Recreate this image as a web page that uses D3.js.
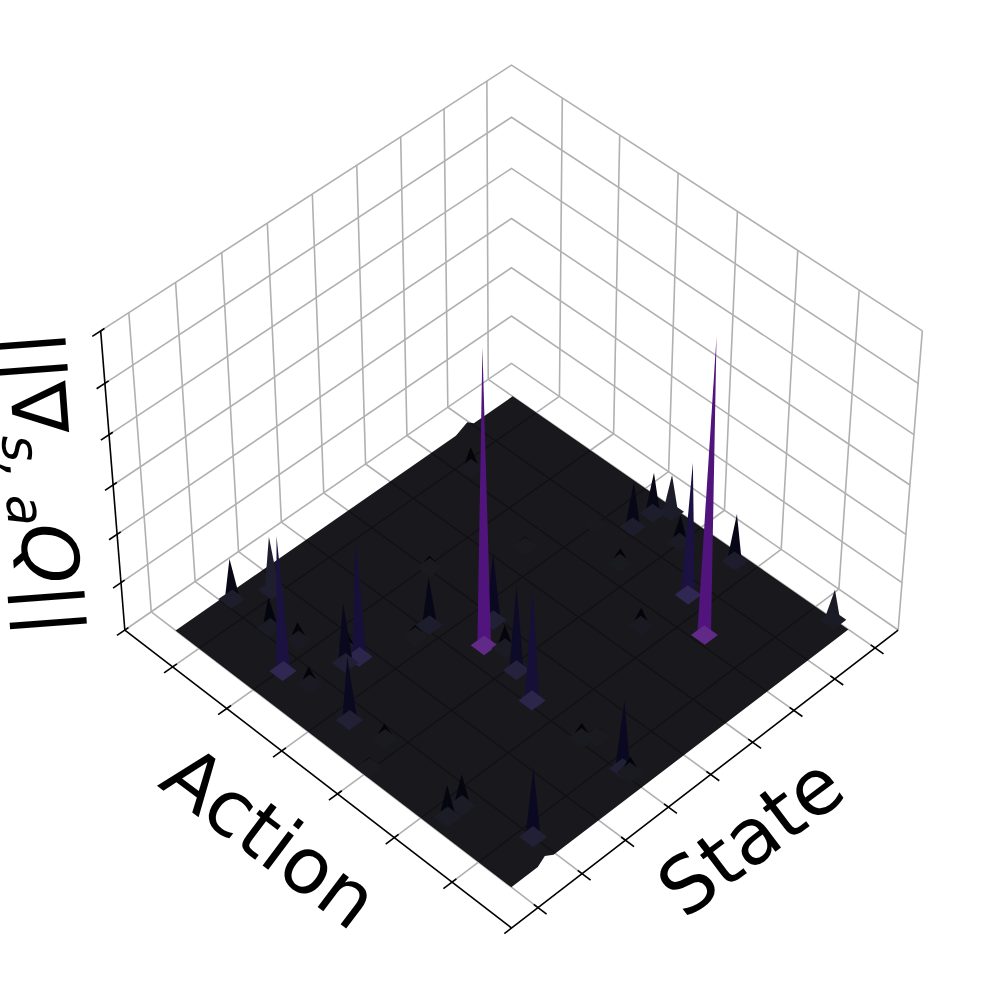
<!DOCTYPE html>
<html lang="en">
<head>
    <meta charset="UTF-8">
    <title>Gradient surface</title>
    <script src="https://d3js.org/d3.v7.min.js"></script>
    <style>
        body { margin: 0; background: #fff; }
        text { font-family: "DejaVu Sans"; fill: #000; }
    </style>
</head>
<body>
    <script>
        // tick values of the three axes
        const stateTicks = [0, 50, 100, 150, 200, 250, 300, 350, 400];
        const actionTicks = [0, 100, 200, 300, 400, 500];
        const zTicks = [0, 1, 2, 3, 4, 5, 6];

        // peaks of the surface
        const spikeState = [58, 89, 32, 58, 65, 37, 75, 88, 86, 33, 155, 137, 202, 311, 171, 197, 359, 383, 395, 374, 334, 310, 391, 399, 320, 280, 277, 181, 170, 155, 154, 155, 154, 164, 39, 8, 16, 33, 50, 338];
        const spikeAction = [-34, -10, 103, 37, 78, 143, 148, 153, 135, 222, 176, 178, 104, 13, 250, 227, 237, 238, 253, 299, 371, 434, 372, 531, 271, 366, 164, 272, 309, 359, 518, 529, 447, 459, 276, 297, 422, 421, 518, 200];
        const spikeHeight = [0.85, 1.12, 2.8, 0.64, 0.38, 0.38, 1.26, 2.44, 0.4, 1.33, 1.01, 0.25, 0.25, 0.45, 5.98, 1.41, 0.95, 0.85, 0.78, 0.57, 2.74, 5.98, 0.99, 0.64, 0.32, 0.38, 0.21, 0.49, 1.78, 2.4, 1.43, 0.34, 0.33, 0.21, 0.33, 0.23, 0.68, 0.66, 1.46, 0.16];
        // peaks on the rim, seen against the wall: only one layer of the surface
        const rimSpikes = [1, 18, 23];

        // raised vertices on the border of the surface (state before, at, after)
        const backBump = [330, 344, 352];
        const frontBump = [48, 38, 30];
        const bumpHeight = 0.12;

        const width = 997, height = 997;
        const halfX = 0.5714, halfZ = 0.4286;
        const stateDomain = [0, 400], actionDomain = [-44, 556];
        const cellState = 16, cellAction = 24;

        const xScale = d3.scaleLinear().domain(stateDomain).range([0.4971, -0.4991]);
        const yScale = d3.scaleLinear().domain(actionDomain).range([-0.4956, 0.4966]);
        const zScale = d3.scaleLinear().domain([0, 6]).range([-halfZ, halfZ]);
        const colorScale = d3.scaleSequential(d3.interpolateMagma).domain([0, 24]);

        // camera: elevation 45, azimuth 45, distance 10
        const focal = 4930, centerX = 511.5, centerY = 485, dist = 10, s45 = Math.SQRT1_2;
        function project(x, y, z) {
            const depth = dist - (0.5 * (x + y) + s45 * z);
            return [
                centerX + focal * s45 * (y - x) / depth,
                centerY - focal * (s45 * z - 0.5 * (x + y)) / depth
            ];
        }
        const pt = (s, a, z) => project(xScale(s), yScale(a), zScale(z));

        const path = d3.line();
        const svg = d3.select("body").append("svg")
            .attr("width", width)
            .attr("height", height)
            .style("display", "block");

        function drawLines(list, color, w) {
            svg.append("g").selectAll("path")
                .data(list)
                .enter().append("path")
                .attr("d", d => path(d.map(p => project(p[0], p[1], p[2]))))
                .attr("fill", "none")
                .attr("stroke", color)
                .attr("stroke-width", w);
        }

        // walls and floor
        const gridLines = [];
        zTicks.forEach(t => {
            const z = zScale(t);
            gridLines.push([[halfX, -halfX, z], [-halfX, -halfX, z], [-halfX, halfX, z]]);
        });
        stateTicks.forEach(t => {
            const x = xScale(t);
            gridLines.push([[x, -halfX, halfZ], [x, -halfX, -halfZ], [x, halfX, -halfZ]]);
        });
        actionTicks.forEach(t => {
            const y = yScale(t);
            gridLines.push([[-halfX, y, halfZ], [-halfX, y, -halfZ], [halfX, y, -halfZ]]);
        });
        gridLines.push([[-halfX, halfX, halfZ], [-halfX, halfX, -halfZ]]);
        drawLines(gridLines, "#b0b0b0", 1.6);

        // surface sheet, the floor grid shows through it
        const [s0, s1] = stateDomain, [a0, a1] = actionDomain;
        const rim = [
            pt(s0, a0, 0),
            pt(backBump[0], a0, 0), pt(backBump[1], a0, bumpHeight), pt(backBump[2], a0, 0),
            pt(s1, a0, 0), pt(s1, a1, 0),
            pt(frontBump[0], a1, 0), pt(frontBump[1], a1, bumpHeight), pt(frontBump[2], a1, 0),
            pt(s0, a1, 0)
        ];
        svg.append("path")
            .attr("d", path(rim) + "Z")
            .attr("fill", colorScale(0))
            .attr("fill-opacity", 0.9);

        // peaks, far ones first
        const overWhite = (c, a) => d3.interpolateRgb("#fff", c)(a);
        const spikes = spikeState.map((s, i) => ({
            s: s, a: spikeAction[i], z: spikeHeight[i], rim: rimSpikes.includes(i)
        })).sort((p, q) => (xScale(p.s) + yScale(p.a)) - (xScale(q.s) + yScale(q.a)));

        const spikeG = svg.append("g").selectAll("g")
            .data(spikes)
            .enter().append("g");

        spikeG.append("path")
            .attr("d", d => path([
                pt(d.s, d.a, d.z),
                pt(d.s, d.a - cellAction / 2, 0),
                pt(d.s + cellState / 2, d.a, 0)
            ]) + "Z")
            .attr("fill", d => overWhite(colorScale(d.z), d.rim ? 0.9 : 0.99));

        spikeG.append("path")
            .attr("d", d => path([
                pt(d.s + cellState / 2, d.a - cellAction / 2, 0),
                pt(d.s - cellState / 2, d.a - cellAction / 2, 0),
                pt(d.s - cellState / 2, d.a + cellAction / 2, 0),
                pt(d.s + cellState / 2, d.a + cellAction / 2, 0)
            ]) + "Z")
            .attr("fill", d => overWhite(colorScale(d.z), 0.9));

        // axes
        const axisLines = [
            [[halfX + 0.02, halfX, -halfZ], [-halfX, halfX, -halfZ]],
            [[halfX, -halfX, -halfZ], [halfX, halfX, -halfZ]],
            [[halfX, -halfX, -halfZ], [halfX, -halfX, halfZ]]
        ];
        actionTicks.forEach(t => {
            const y = yScale(t);
            axisLines.push([[halfX - 0.012, y, -halfZ], [halfX + 0.024, y, -halfZ]]);
        });
        stateTicks.forEach(t => {
            const x = xScale(t);
            axisLines.push([[x, halfX - 0.012, -halfZ], [x, halfX + 0.024, -halfZ]]);
        });
        zTicks.forEach(t => {
            const z = zScale(t);
            axisLines.push([[halfX - 0.01, -halfX, z], [halfX + 0.022, -halfX, z]]);
        });
        drawLines(axisLines, "#000", 1.6);

        // axis titles
        svg.append("text")
            .attr("transform", "translate(254,859) rotate(37)")
            .attr("text-anchor", "middle")
            .attr("font-size", 78)
            .text("Action");

        svg.append("text")
            .attr("transform", "translate(767,858) rotate(-37)")
            .attr("text-anchor", "middle")
            .attr("font-size", 78)
            .text("State");

        const zLabel = svg.append("text")
            .attr("transform", "translate(6,333) rotate(85.7)")
            .attr("font-size", 77);
        zLabel.append("tspan").text("||∇");
        zLabel.append("tspan").attr("font-size", 52).attr("font-style", "italic").attr("dx", -1).attr("dy", 12).text("s,");
        zLabel.append("tspan").attr("font-size", 52).attr("font-style", "italic").attr("dx", 16).text("a");
        zLabel.append("tspan").attr("font-style", "italic").attr("dx", -1).attr("dy", -12).text("Q");
        zLabel.append("tspan").text("||");
    </script>
</body>
</html>
